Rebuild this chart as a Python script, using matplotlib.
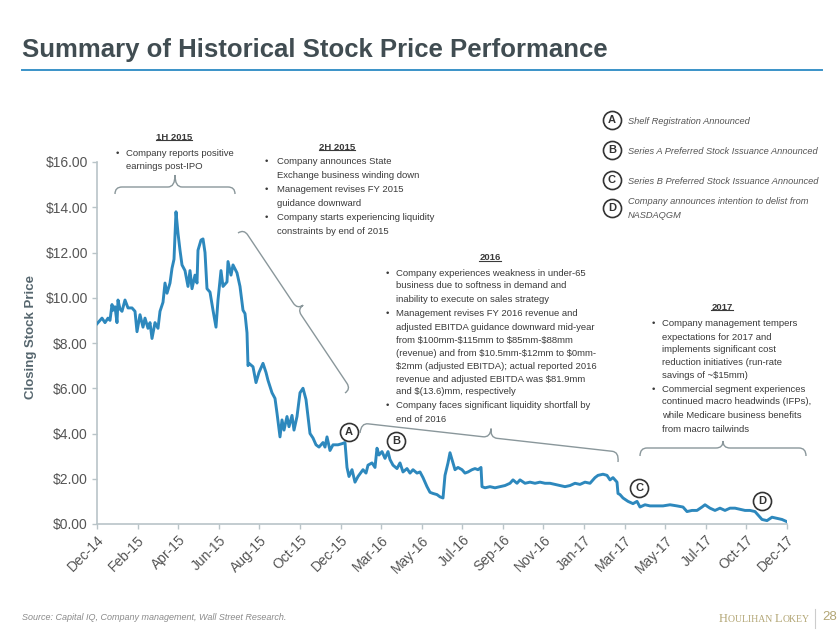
import numpy as np
import matplotlib.pyplot as plt
from matplotlib.path import Path
from matplotlib.patches import PathPatch
from matplotlib.lines import Line2D

plt.rcParams['font.family'] = ['Liberation Sans', 'DejaVu Sans']

W, H = 840, 630

# trading-session index (0 = Dec-14 ... 690 = Dec-17) and closing price ($)
session = [0, 3, 5, 8, 11, 13, 15, 16, 18, 20, 21, 23, 25, 28, 31, 35, 38, 40, 43, 46,
           48, 51, 53, 55, 58, 61, 63, 66, 68, 70, 73, 75, 77, 79, 81, 83, 85, 88, 91, 93,
           95, 98, 100, 101, 104, 106, 108, 110, 113, 116, 119, 121, 124, 126, 130, 131, 134, 136, 140, 143,
           146, 148, 150, 151, 152, 156, 159, 162, 166, 169, 171, 175, 178, 180, 183, 185, 187, 190, 192, 195,
           197, 200, 203, 206, 209, 211, 213, 216, 219, 222, 226, 228, 230, 233, 236, 241, 245, 248, 250, 252,
           255, 258, 261, 266, 269, 271, 275, 278, 280, 282, 285, 288, 291, 293, 296, 300, 303, 306, 310, 313,
           316, 320, 323, 326, 330, 333, 336, 340, 343, 346, 348, 351, 353, 356, 358, 361, 365, 368, 371, 375,
           378, 381, 384, 385, 388, 393, 398, 403, 408, 413, 416, 420, 423, 428, 433, 438, 443, 448, 453, 458,
           463, 468, 473, 478, 483, 488, 493, 498, 501, 506, 510, 513, 516, 520, 521, 523, 526, 531, 536, 540,
           543, 548, 553, 560, 566, 573, 580, 586, 590, 595, 600, 605, 608, 613, 618, 623, 628, 633, 638, 643,
           648, 653, 658, 661, 665, 670, 675, 680, 685, 690]
price = [8.85, 9.0, 9.1, 8.9, 9.1, 9.0, 9.7, 9.45, 9.6, 8.9, 9.9, 9.5, 9.4, 9.9, 9.55, 9.55, 9.4, 8.5, 9.25, 8.7,
         9.1, 8.65, 8.9, 8.2, 8.9, 8.65, 9.4, 9.8, 10.65, 10.2, 10.65, 11.3, 11.7, 13.8, 12.85, 12.1, 11.45, 11.2, 10.5, 11.2,
         10.4, 11.0, 10.65, 12.1, 12.55, 12.6, 12.0, 10.4, 10.25, 9.45, 8.7, 9.9, 11.2, 10.5, 10.7, 11.6, 11.0, 11.45, 11.1, 10.5,
         9.45, 9.3, 8.45, 7.0, 7.1, 6.95, 6.25, 6.7, 7.1, 6.7, 6.35, 5.8, 5.55, 4.9, 3.85, 4.6, 4.15, 4.75, 4.3, 4.8,
         4.15, 4.75, 5.8, 6.0, 5.5, 4.75, 4.0, 3.8, 3.5, 3.4, 3.6, 3.4, 3.85, 3.25, 3.5, 3.5, 3.55, 3.6, 2.5, 2.1,
         2.4, 1.85, 2.1, 2.4, 2.25, 2.6, 2.7, 2.5, 3.35, 3.05, 3.2, 2.9, 3.2, 2.85, 2.6, 2.45, 2.7, 2.3, 2.45, 2.25,
         2.4, 2.25, 2.3, 2.05, 1.65, 1.4, 1.35, 1.3, 1.2, 1.15, 2.15, 2.7, 3.15, 2.7, 2.4, 2.5, 2.4, 2.25, 2.3, 2.4,
         2.45, 2.4, 2.5, 1.65, 1.6, 1.65, 1.6, 1.65, 1.7, 1.8, 1.95, 1.8, 1.95, 1.8, 1.85, 1.8, 1.85, 1.8, 1.8, 1.75,
         1.7, 1.65, 1.7, 1.8, 1.75, 1.85, 1.8, 2.05, 2.15, 2.2, 2.15, 1.95, 2.05, 1.85, 1.35, 1.3, 1.15, 1.0, 0.9, 1.0,
         0.75, 0.85, 0.8, 0.8, 0.8, 0.85, 0.8, 0.75, 0.55, 0.6, 0.6, 0.75, 0.85, 0.7, 0.6, 0.7, 0.6, 0.7, 0.7, 0.65,
         0.6, 0.6, 0.55, 0.4, 0.2, 0.15, 0.3, 0.25, 0.2, 0.1]

tick_labels = ["Dec-14", "Feb-15", "Apr-15", "Jun-15", "Aug-15", "Oct-15", "Dec-15", "Mar-16", "May-16",
               "Jul-16", "Sep-16", "Nov-16", "Jan-17", "Mar-17", "May-17", "Jul-17", "Oct-17", "Dec-17"]
y_ticks = [0, 2, 4, 6, 8, 10, 12, 14, 16]

# events marked on the chart: letter, session, price
events = [("A", 252, 4.07), ("B", 299, 3.67), ("C", 542, 1.59), ("D", 665, 1.02)]
event_text = {"A": ["Shelf Registration Announced"],
              "B": ["Series A Preferred Stock Issuance Announced"],
              "C": ["Series B Preferred Stock Issuance Announced"],
              "D": ["Company announces intention to delist from", "NASDAQGM"]}

TXT = '#3a3a3a'
GRID = '#b9c4c8'
LINE = '#2d88bd'
FS = 6.8


def fx(x):
    return x / W


def fy(y):
    return 1 - y / H


def brace(p0, p1, h, d, r=7):
    p0 = np.array(p0, float)
    p1 = np.array(p1, float)
    L = np.linalg.norm(p1 - p0)
    u = (p1 - p0) / L
    n = np.array([u[1], -u[0]])

    def P(a, b):
        q = p0 + a * u + b * n
        return (fx(q[0]), fy(q[1]))
    m = L / 2
    verts = [P(0, 0), P(0, h), P(r, h), P(m - r, h), P(m, h), P(m, h + d),
             P(m, h), P(m + r, h), P(L - r, h), P(L, h), P(L, 0)]
    codes = [Path.MOVETO, Path.CURVE3, Path.CURVE3, Path.LINETO, Path.CURVE3, Path.CURVE3,
             Path.CURVE3, Path.CURVE3, Path.LINETO, Path.CURVE3, Path.CURVE3]
    fig.add_artist(PathPatch(Path(verts, codes), fill=False, ec='#8a979b', lw=1.0,
                             transform=fig.transFigure))


def block(title, tx, ty, bx, x, lines, size=FS):
    t = fig.text(fx(tx), fy(ty), title, ha='center', va='center', fontsize=size,
                 fontweight='bold', color=TXT)
    headers.append(t)
    for y, s, bullet in lines:
        if bullet:
            fig.text(fx(bx), fy(y), "•", ha='left', va='center', fontsize=size, color=TXT)
        fig.text(fx(x), fy(y), s, ha='left', va='center', fontsize=size, color=TXT)


fig = plt.figure(figsize=(8.4, 6.3), dpi=100)
ax = fig.add_axes([fx(97), fy(524), 690 / W, 362 / H])

ax.plot(session, price, color=LINE, lw=2.1, solid_joinstyle='round', zorder=3)

ax.set_xlim(0, 690)
ax.set_ylim(0, 16)
ax.set_xticks(np.linspace(0, 690, len(tick_labels)))
ax.set_xticklabels(tick_labels, rotation=45, ha='right', va='top', rotation_mode='anchor',
                   fontsize=10, color='#555555')
ax.set_yticks(y_ticks)
ax.set_yticklabels(["${:.2f}".format(v) for v in y_ticks], fontsize=10, color='#555555')
ax.tick_params(axis='both', length=3.5, width=1, color=GRID, pad=3)
for s in ['top', 'right']:
    ax.spines[s].set_visible(False)
for s in ['left', 'bottom']:
    ax.spines[s].set_color(GRID)
    ax.spines[s].set_linewidth(1.2)

fig.text(fx(31), fy(337), "Closing Stock Price", rotation=90, ha='center', va='center',
         fontsize=9.5, fontweight='bold', color='#56666e')

# title
fig.text(fx(22), fy(50), "Summary of Historical Stock Price Performance", ha='left', va='center',
         fontsize=18.5, fontweight='bold', color='#414d52')
fig.add_artist(Line2D([fx(22), fx(822)], [fy(70), fy(70)], color='#3a93c8', lw=1.4))

# event badges on the chart
for letter, sx, py in events:
    ax.plot([sx], [py], marker='o', ms=13, mfc='white', mec='#333333', mew=1.2,
            clip_on=False, zorder=6)
    ax.text(sx, py, letter, ha='center', va='center', fontsize=8, fontweight='bold',
            color='#333333', zorder=7)

# legend of events
for i, (letter, _, _) in enumerate(events):
    by = [120, 150, 180, 208][i]
    fig.add_artist(Line2D([fx(612)], [fy(by)], marker='o', ms=13, mfc='white', mec='#333333',
                          mew=1.2))
    fig.text(fx(612), fy(by), letter, ha='center', va='center', fontsize=8, fontweight='bold',
             color='#333333')
    lines = event_text[letter]
    if len(lines) == 1:
        fig.text(fx(628), fy(by + 1), lines[0], ha='left', va='center', fontsize=6.7,
                 style='italic', color='#555555')
    else:
        fig.text(fx(628), fy(by - 6), lines[0], ha='left', va='center', fontsize=6.7,
                 style='italic', color='#555555')
        fig.text(fx(628), fy(by + 7), lines[1], ha='left', va='center', fontsize=6.7,
                 style='italic', color='#555555')

headers = []
block("1H 2015", 174, 137, 116, 126, [
    (153, "Company reports positive", True),
    (167, "earnings post-IPO", False)])
block("2H 2015", 337, 147, 265, 277, [
    (162, "Company announces State", True),
    (176, "Exchange business winding down", False),
    (190, "Management revises FY 2015", True),
    (204, "guidance downward", False),
    (218, "Company starts experiencing liquidity", True),
    (232, "constraints by end of 2015", False)])
block("2016", 490, 258, 386, 396, [
    (273, "Company experiences weakness in under-65", True),
    (286, "business due to softness in demand and", False),
    (299, "inability to execute on sales strategy", False),
    (314, "Management revises FY 2016 revenue and", True),
    (327, "adjusted EBITDA guidance downward mid-year", False),
    (340, "from \\$100mm-\\$115mm to \\$85mm-\\$88mm", False),
    (353, "(revenue) and from \\$10.5mm-\\$12mm to \\$0mm-", False),
    (366, "\\$2mm (adjusted EBITDA); actual reported 2016", False),
    (379, "revenue and adjusted EBITDA was \\$81.9mm", False),
    (391, "and \\$(13.6)mm, respectively", False),
    (406, "Company faces significant liquidity shortfall by", True),
    (419, "end of 2016", False)])
block("2017", 722, 307, 652, 662, [
    (323, "Company management tempers", True),
    (337, "expectations for 2017 and", False),
    (350, "implements significant cost", False),
    (363, "reduction initiatives (run-rate", False),
    (376, "savings of ~\\$15mm)", False),
    (389, "Commercial segment experiences", True),
    (402, "continued macro headwinds (IFPs),", False),
    (416, "while Medicare business benefits", False),
    (429, "from macro tailwinds", False)])

# underline the period headers
renderer = fig.canvas.get_renderer()
for t in headers:
    bb = t.get_window_extent(renderer)
    yb = bb.y0 + 1.5
    fig.add_artist(Line2D([bb.x0 / W, bb.x1 / W], [yb / H, yb / H], color=TXT, lw=0.8))

# braces tying each period to the price line
brace((115, 194), (235, 194), 7, 12)
brace((238, 233), (345, 393), 7, 7)
brace((360, 433), (618, 462), 10, 9)
brace((640, 456), (806, 456), 8, 7)

# footer
fig.text(fx(22), fy(617), "Source: Capital IQ, Company management, Wall Street Research.",
         ha='left', va='center', fontsize=6.5, style='italic', color='#8a8a8a')
gold = '#b3a675'
fig.add_artist(Line2D([fx(815), fx(815)], [fy(609), fy(628)], color='#cccccc', lw=0.8))
fig.text(fx(822), fy(617), "28", ha='left', va='center', fontsize=9.5, color=gold)

# small caps wordmark built piece by piece
pieces = [("H", 9), ("OULIHAN ", 7), ("L", 9), ("OKEY", 7)]
xpos = 719
for part, size in pieces:
    t = fig.text(xpos / W, fy(622), part, ha='left', va='baseline', fontsize=size,
                 family='Liberation Serif', color=gold)
    xpos = t.get_window_extent(renderer).x1

fig.savefig("out.png", dpi=100)
